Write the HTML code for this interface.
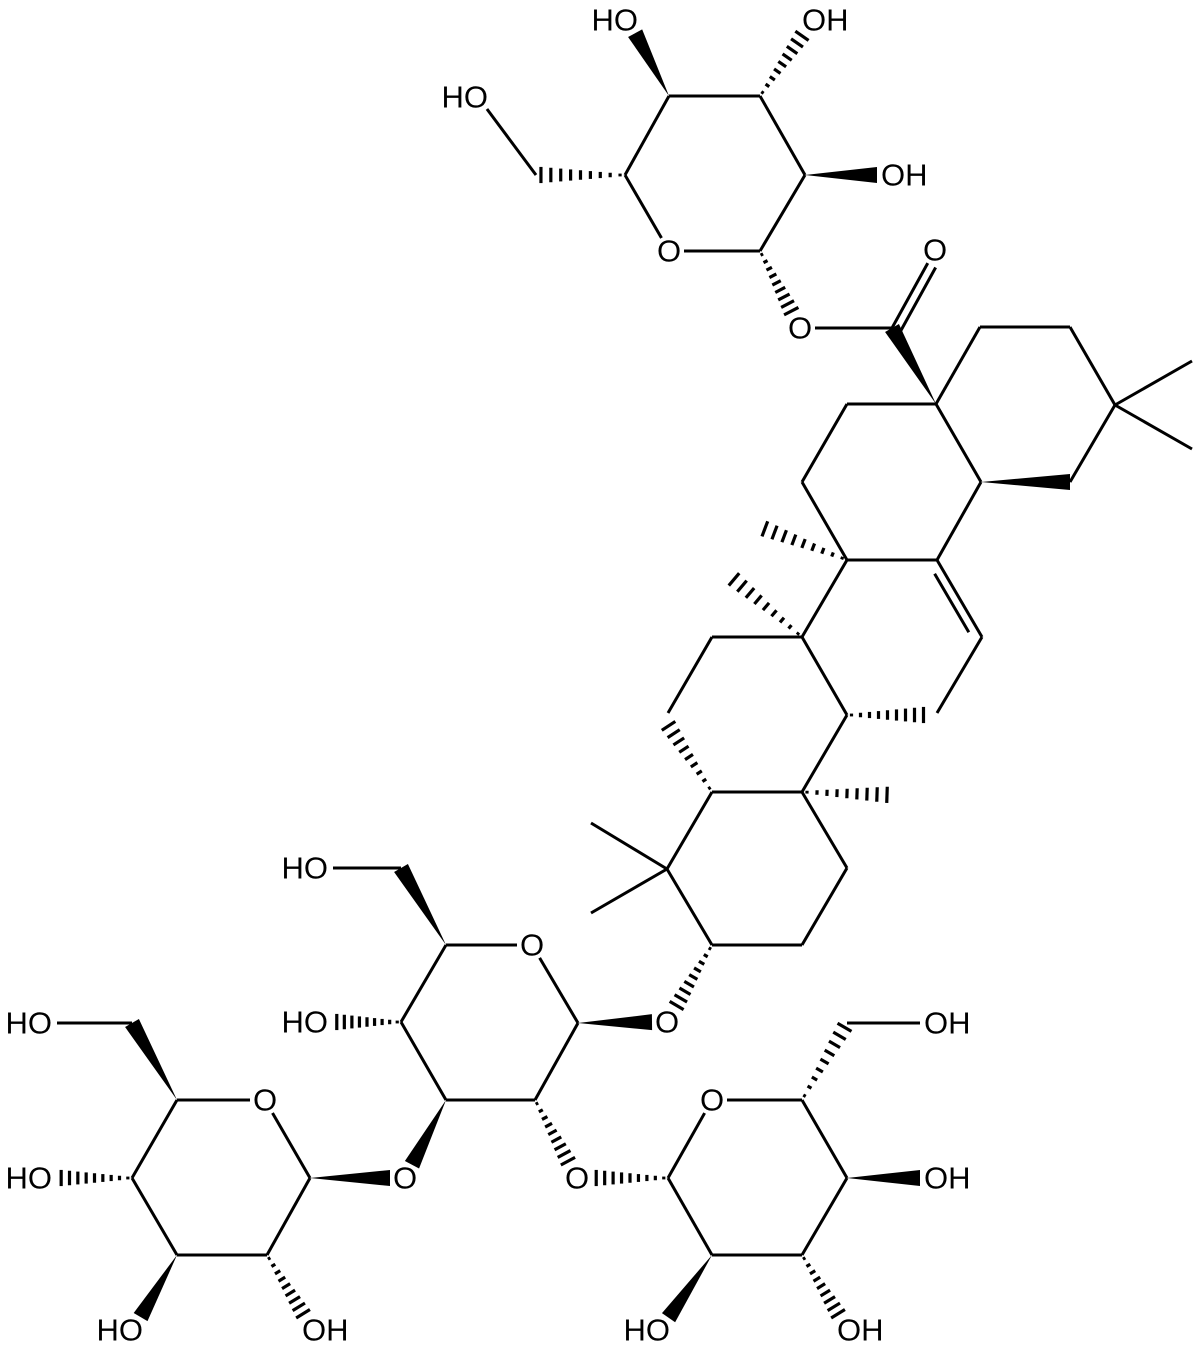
<!DOCTYPE html>
<html><head><meta charset="utf-8">
<style>html,body{margin:0;padding:0;background:#fff}svg{display:block}
text{font-family:"Liberation Sans",sans-serif;font-size:31px;fill:#000}</style></head>
<body>
<svg id="s" width="1200" height="1352" viewBox="0 0 1200 1352" xmlns="http://www.w3.org/2000/svg">
<g id="b" stroke="#000" stroke-width="3" fill="none" stroke-linecap="butt"></g>
<g id="w" fill="#000"></g>
<g id="t" text-anchor="middle" dominant-baseline="central">
<text x="478" y="97" text-anchor="end" dx="10">HO</text>
<text x="628" y="20" text-anchor="end" dx="10">HO</text>
<text x="813" y="20" text-anchor="start" dx="-11">OH</text>
<text x="892" y="175" text-anchor="start" dx="-11">OH</text>
<text x="669" y="251">O</text>
<text x="800" y="328">O</text>
<text x="935" y="250">O</text>
<text x="667" y="1022">O</text>
<text x="318" y="868" text-anchor="end" dx="10">HO</text>
<text x="318" y="1022" text-anchor="end" dx="10">HO</text>
<text x="532" y="945">O</text>
<text x="405" y="1178">O</text>
<text x="577" y="1178">O</text>
<text x="42" y="1023" text-anchor="end" dx="10">HO</text>
<text x="42" y="1178" text-anchor="end" dx="10">HO</text>
<text x="265" y="1100">O</text>
<text x="133" y="1330" text-anchor="end" dx="10">HO</text>
<text x="313" y="1330" text-anchor="start" dx="-11">OH</text>
<text x="712" y="1100">O</text>
<text x="935" y="1023" text-anchor="start" dx="-11">OH</text>
<text x="935" y="1178" text-anchor="start" dx="-11">OH</text>
<text x="848" y="1330" text-anchor="start" dx="-11">OH</text>
<text x="660" y="1330" text-anchor="end" dx="10">HO</text>
</g>
</svg>
<script>
var A={
t4:[669,96],t3:[760,96],t2:[805,175],t1:[760,251],tO:[669,251,1],t5:[625,175],t6:[536,175],tO6:[478,97,1],tO4:[628,20,1],tO3:[813,20,1],tO2:[892,175,1],
eO:[800,328,1],c28:[892,328],oC:[935,250,1],
c17:[936,404],c22:[980,327],c21:[1070,327],c20:[1115,405],m1:[1192,361],m2:[1192,449],c19:[1070,482],c18:[981,482],
c16:[847,404],c15:[802,482],c14:[847,560],c13:[937,560],c12:[982,637],c11:[937,713],c9:[847,715],c8:[802,637],
c7:[712,637],c6:[668,713],c5:[712,792],c10:[802,792],c1:[847,868],c2:[802,945],c3:[712,945],c4:[667,869],m4a:[591,823],m4b:[591,913],
h14:[760,527],h8:[730,576],h9:[928,715],h10:[892,795],h5:[666,722],
gO:[667,1022,1],
mO:[532,945,1],m5:[446,945],m6:[401,868],mO6:[318,868,1],m4:[401,1022],mO4:[318,1022,1],m3:[446,1100],m2c:[535,1100],m1c:[578,1023],mO3:[405,1178,1],mO2:[577,1178,1],
l1:[310,1178],lO:[265,1100,1],l5:[177,1100],l6:[132,1023],lO6:[42,1023,1],l4:[132,1178],lO4:[42,1178,1],l3:[177,1255],lO3:[133,1330,1],l2:[267,1255],lO2:[313,1330,1],
r1:[668,1178],rO:[712,1100,1],r5:[802,1100],r6:[847,1023],rO6:[935,1023,1],r4:[847,1178],rO4:[935,1178,1],r3:[802,1255],rO3:[848,1330,1],r2:[712,1255],rO2:[660,1330,1]
};
var NS="http://www.w3.org/2000/svg",B=document.getElementById('b'),W=document.getElementById('w');
function ends(a,b){var p=A[a].slice(),q=A[b].slice();var dx=q[0]-p[0],dy=q[1]-p[1],L=Math.hypot(dx,dy),ux=dx/L,uy=dy/L;
 var s=15;if(A[a][2]){p[0]+=ux*s;p[1]+=uy*s;}if(A[b][2]){q[0]-=ux*s;q[1]-=uy*s;}return [p,q,ux,uy];}
function ln(x1,y1,x2,y2,w){var l=document.createElementNS(NS,'line');l.setAttribute('x1',x1);l.setAttribute('y1',y1);l.setAttribute('x2',x2);l.setAttribute('y2',y2);if(w)l.setAttribute('stroke-width',w);B.appendChild(l);}
function bond(a,b){var e=ends(a,b);ln(e[0][0],e[0][1],e[1][0],e[1][1]);}
function wedge(a,b){var e=ends(a,b),p=e[0],q=e[1],nx=-e[3],ny=e[2],h=8;var g=document.createElementNS(NS,'polygon');
 g.setAttribute('points',p[0]+','+p[1]+' '+(q[0]+nx*h)+','+(q[1]+ny*h)+' '+(q[0]-nx*h)+','+(q[1]-ny*h));W.appendChild(g);}
function hash(a,b){var e=ends(a,b),p=e[0],q=e[1],nx=-e[3],ny=e[2],n=9;for(var i=0;i<n;i++){var t=(i+0.5)/n,x=p[0]+(q[0]-p[0])*t,y=p[1]+(q[1]-p[1])*t,h=1+7.5*t;ln(x+nx*h,y+ny*h,x-nx*h,y-ny*h,3.2);}}
function dbl(a,b,cx,cy,inner){var p=A[a],q=A[b];bond(a,b);var dx=q[0]-p[0],dy=q[1]-p[1],L=Math.hypot(dx,dy),nx=-dy/L,ny=dx/L;
 var mx=(p[0]+q[0])/2,my=(p[1]+q[1])/2;if((cx-mx)*nx+(cy-my)*ny<0){nx=-nx;ny=-ny;}var o=9,sh=inner?0.12:0;
 var e=ends(a,b);var P=e[0],Q=e[1];ln(P[0]+nx*o+dx*sh,P[1]+ny*o+dy*sh,Q[0]+nx*o-dx*sh,Q[1]+ny*o-dy*sh);}
var bonds="t4-t3 t3-t2 t2-t1 t1-tO tO-t5 t5-t4 t6-tO6 eO-c28 c17-c22 c22-c21 c21-c20 c20-m1 c20-m2 c20-c19 c18-c17 c17-c16 c16-c15 c15-c14 c14-c13 c13-c18 c12-c11 c14-c8 c8-c9 c8-c7 c7-c6 c5-c10 c10-c9 c10-c1 c1-c2 c2-c3 c3-c4 c4-c5 c4-m4a c4-m4b "+
"m5-mO mO-m1c m1c-m2c m2c-m3 m3-m4 m4-m5 m6-mO6 l1-lO lO-l5 l5-l4 l4-l3 l3-l2 l2-l1 l6-lO6 r1-rO rO-r5 r5-r4 r4-r3 r3-r2 r2-r1 r6-rO6";
bonds.split(' ').forEach(function(s){var p=s.split('-');bond(p[0],p[1]);});
dbl('c28','oC',960,330,false);
dbl('c13','c12',892,637,true);
[['t4','tO4'],['t2','tO2'],['c17','c28'],['c18','c19'],['m5','m6'],['m1c','gO'],['m3','mO3'],['l5','l6'],['l3','lO3'],['l1','mO3'],['r4','rO4'],['r2','rO2']].forEach(function(p){wedge(p[0],p[1]);});
[['t3','tO3'],['t5','t6'],['t1','eO'],['c14','h14'],['c8','h8'],['c9','h9'],['c10','h10'],['c5','h5'],['c3','gO'],['m4','mO4'],['m2c','mO2'],['l4','lO4'],['l2','lO2'],['r1','mO2'],['r5','r6'],['r3','rO3']].forEach(function(p){hash(p[0],p[1]);});
</script>
</body></html>
